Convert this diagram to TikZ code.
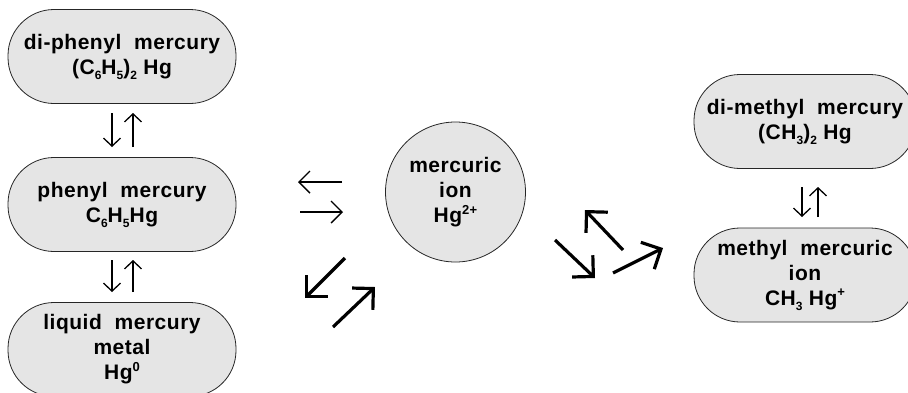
\documentclass[tikz,border=0pt]{standalone}
\usepackage{fontspec}
\setmainfont[LetterSpace=2.5]{Liberation Sans}
\usetikzlibrary{arrows.meta}
% chemical indices: small figures dropped below / lifted above the line
\newcommand{\ssub}[1]{\raisebox{-0.45ex}{\fontsize{12}{12}\selectfont #1}}
\newcommand{\ssup}[1]{\raisebox{0.75ex}{\fontsize{13}{13}\selectfont #1}}

\begin{document}
\begin{tikzpicture}[x=1pt,y=-1pt,
  species/.style={draw=black!85, line width=0.8pt, fill=black!10,
    rounded corners=46pt, minimum width=228pt, minimum height=94pt,
    inner sep=0pt, align=center, font=\bfseries\fontsize{21}{25}\selectfont},
  ionnode/.style={species, circle, rounded corners=0pt, minimum size=140pt},
  varrow/.style={line width=1.3pt, -{Straight Barb[length=8pt,width=17pt]}},
  harrow/.style={line width=1.4pt, -{Straight Barb[length=11pt,width=22pt]}},
  bigarrow/.style={line width=3.2pt, -{Straight Barb[length=15pt,width=30pt]}}]
\useasboundingbox (0,0) rectangle (908,392);
\clip (0,0) rectangle (908,392);

% phenyl branch
\node[species] (b1) at (122,56.5) {di-phenyl\ \ mercury\\(C\ssub{6}H\ssub{5})\ssub{2} Hg};
\node[species] (b2) at (122,204.5) {phenyl\ \ mercury\\C\ssub{6}H\ssub{5}Hg};
\node[species] (b3) at (122,349.5) {liquid\ \ mercury\\metal\\Hg\ssup{0}};

% central ion
\node[ionnode] (ion) at (455.5,192) {mercuric\\ion\\Hg\ssup{2+}};

% methyl branch
\node[species, minimum width=222pt] (r1) at (805,121.5) {di-methyl\ \ mercury\\(CH\ssub{3})\ssub{2} Hg};
\node[species, minimum width=222pt] (r2) at (805,275) {methyl\ \ mercuric\\ion\\CH\ssub{3} Hg\ssup{+}};

% arrow end points
\coordinate (p1a) at (112,113); \coordinate (p1b) at (112,147);
\coordinate (p1c) at (133,147); \coordinate (p1d) at (133,113);
\coordinate (p2a) at (112,260); \coordinate (p2b) at (112,292);
\coordinate (p2c) at (133,292); \coordinate (p2d) at (133,260);
\coordinate (m1a) at (802,187); \coordinate (m1b) at (802,217);
\coordinate (m1c) at (818,217); \coordinate (m1d) at (818,187);
\coordinate (h1a) at (342,182); \coordinate (h1b) at (298,182);
\coordinate (h2a) at (300,212); \coordinate (h2b) at (343,212);
\coordinate (l1a) at (345,258); \coordinate (l1b) at (305,298);
\coordinate (l2a) at (333,327); \coordinate (l2b) at (375,287);
\coordinate (s1a) at (555,240); \coordinate (s1b) at (595,278);
\coordinate (s2a) at (623,250); \coordinate (s2b) at (585,210);
\coordinate (s3a) at (613,273); \coordinate (s3b) at (663,248);

% equilibria between the phenyl species
\draw[varrow] (p1a) -- (p1b);
\draw[varrow] (p1c) -- (p1d);
\draw[varrow] (p2a) -- (p2b);
\draw[varrow] (p2c) -- (p2d);

% equilibrium between the methyl species
\draw[varrow] (m1a) -- (m1b);
\draw[varrow] (m1c) -- (m1d);

% exchange with the mercuric ion
\draw[harrow] (h1a) -- (h1b);
\draw[harrow] (h2a) -- (h2b);
\draw[bigarrow] (l1a) -- (l1b);
\draw[bigarrow] (l2a) -- (l2b);
\draw[bigarrow] (s1a) -- (s1b);
\draw[bigarrow] (s2a) -- (s2b);
\draw[bigarrow] (s3a) -- (s3b);
\end{tikzpicture}
\end{document}
